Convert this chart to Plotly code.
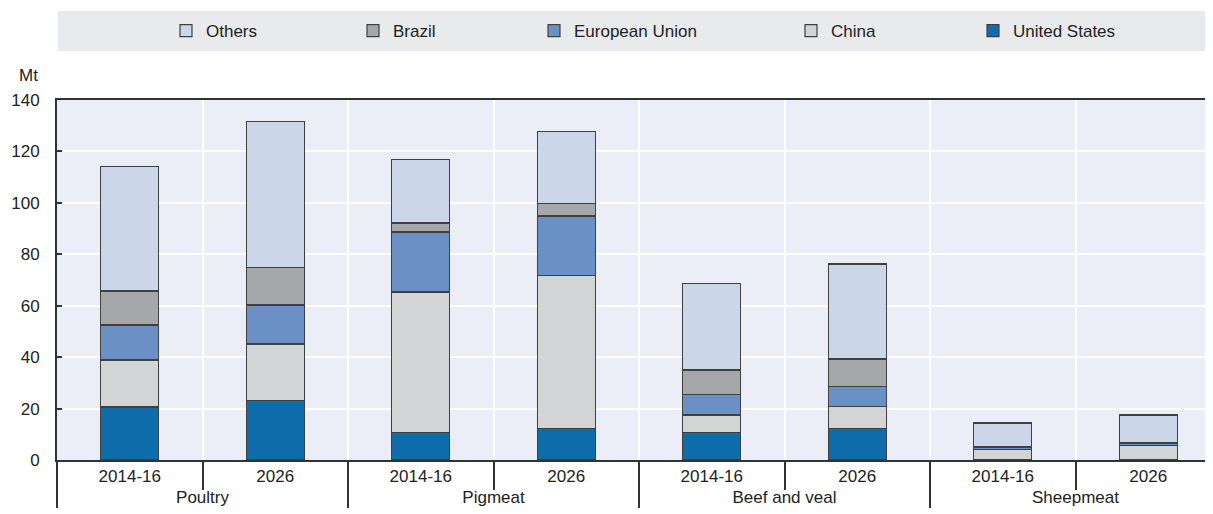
import plotly.graph_objects as go

# Meat production by country, Mt
meats = ["Poultry", "Poultry", "Pigmeat", "Pigmeat",
         "Beef and veal", "Beef and veal", "Sheepmeat", "Sheepmeat"]
periods = ["2014-16", "2026"] * 4

united_states = [20.6, 23.0, 10.8, 12.4, 10.7, 12.1, 0.1, 0.1]
china = [18.3, 22.1, 54.5, 59.2, 6.8, 8.8, 4.1, 5.4]
european_union = [13.6, 15.2, 23.4, 23.3, 8.0, 7.6, 0.7, 0.9]
brazil = [13.2, 14.7, 3.5, 4.7, 9.5, 10.8, 0.2, 0.2]
others = [48.3, 56.5, 24.8, 28.0, 33.5, 36.9, 9.3, 10.9]

series = [
    ("United States", united_states, "#106dac"),
    ("China", china, "#d3d4d6"),
    ("European Union", european_union, "#6a90c5"),
    ("Brazil", brazil, "#a6a7aa"),
    ("Others", others, "#cbd6e9"),
]

# legend symbol centres in pixels (reference image)
legend_px = {"Others": 191, "Brazil": 378, "European Union": 559,
             "China": 816, "United States": 998}

FONT = "Arial, Liberation Sans, sans-serif"
OFF = 8  # page body margin
W, H = 1213 - OFF, 514 - OFF
PLOT_L, PLOT_W = 57, 1156

fig = go.Figure()
for i, (name, vals, col) in enumerate(series):
    lg = "legend" if i == 0 else f"legend{i + 1}"
    fig.add_trace(go.Bar(
        x=[meats, periods], y=vals, name=name, legend=lg,
        marker=dict(color=col, line=dict(color="#404040", width=1.2)),
        width=0.4,
    ))

# one legend per series so each entry sits where the reference has it
legends = {}
for i, (name, vals, col) in enumerate(series):
    key = "legend" if i == 0 else f"legend{i + 1}"
    legends[key] = dict(
        xref="container", yref="container",
        x=(legend_px[name] - OFF - 25) / W, xanchor="left",
        y=1 - (31 - OFF) / H, yanchor="middle",
        bgcolor="rgba(0,0,0,0)",
        font=dict(family=FONT, size=17, color="#222"),
        itemwidth=30,
    )

fig.update_layout(
    barmode="stack",
    width=W, height=H,
    showlegend=True,
    margin=dict(l=PLOT_L - OFF, r=0, t=100 - OFF, b=54, autoexpand=False),
    plot_bgcolor="#ebeef7",
    paper_bgcolor="white",
    font=dict(family=FONT, size=17, color="#222"),
    **legends,
)

# grey band behind the legend
fig.add_shape(type="rect", xref="paper", yref="paper",
              x0=1 / PLOT_W, x1=1, y0=1 + 49 / 360, y1=1 + 89 / 360,
              fillcolor="#e9eaec", line_width=0, layer="below")

fig.add_annotation(text="Mt", xref="paper", yref="paper",
                   x=-17 / PLOT_W, y=1 + 25 / 360, xanchor="right", yanchor="middle",
                   showarrow=False, font=dict(family=FONT, size=17, color="#222"))

fig.update_xaxes(
    range=[-0.5, 7.5 - 8 / 145.5], automargin=False,
    showgrid=True, gridcolor="white", gridwidth=2,
    tickson="boundaries", ticks="outside", ticklen=28, tickwidth=2, tickcolor="#333",
    showdividers=True, dividercolor="#333", dividerwidth=2,
    showline=True, linecolor="#333", linewidth=2, mirror=True,
    tickfont=dict(family=FONT, size=17, color="#222"),
)
fig.update_yaxes(
    range=[0, 140], dtick=20, automargin=False,
    showgrid=True, gridcolor="white", gridwidth=2,
    ticks="inside", ticklen=5, tickwidth=2, tickcolor="#333",
    ticklabelstandoff=12,
    showline=True, linecolor="#333", linewidth=2,
    zeroline=False,
    tickfont=dict(family=FONT, size=17, color="#222"),
)

fig.write_html("out.html")
